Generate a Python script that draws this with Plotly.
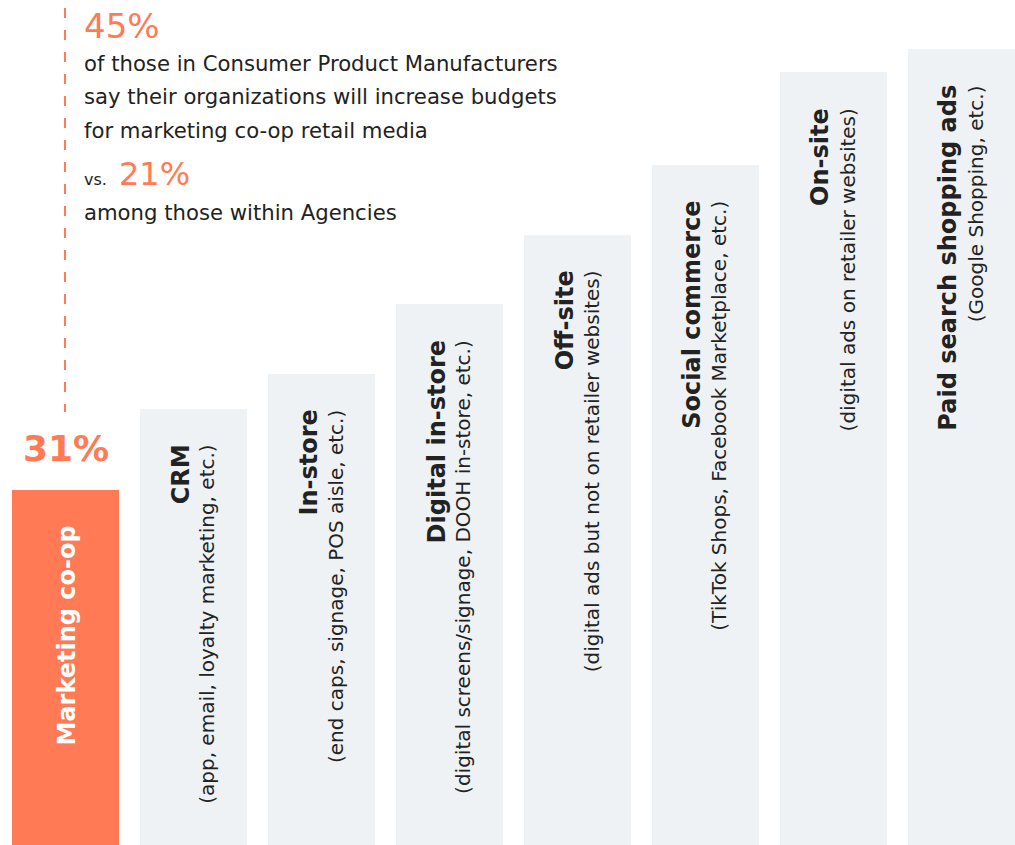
import plotly.graph_objects as go

# Share of respondents per retail media channel
titles = ["Marketing co-op", "CRM", "In-store", "Digital in-store", "Off-site",
          "Social commerce", "On-site", "Paid search shopping ads"]
subtitles = ["", "(app, email, loyalty marketing, etc.)",
             "(end caps, signage, POS aisle, etc.)",
             "(digital screens/signage, DOOH in-store, etc.)",
             "(digital ads but not on retailer websites)",
             "(TikTok Shops, Facebook Marketplace, etc.)",
             "(digital ads on retailer websites)",
             "(Google Shopping, etc.)"]
values = [31, 38, 41, 47, 53, 59, 67, 69]
highlight = "Marketing co-op"

cpm_share = 45
agency_share = 21
callout_lines = ["of those in Consumer Product Manufacturers",
                 "say their organizations will increase budgets",
                 "for marketing co-op retail media"]
agency_line = "among those within Agencies"

ORANGE = "#FF7A55"
GREY = "#EEF2F5"
DARK = "#222222"
FONT = "DejaVu Sans"

W, H = 1015, 845
PX_PER_UNIT = 11.6      # vertical pixels per percentage point
BASE_PX = 849.6         # pixel row of the zero line (just below the canvas)

x = list(range(len(titles)))
colors = [ORANGE if t == highlight else GREY for t in titles]

fig = go.Figure(go.Bar(x=x, y=values, marker_color=colors, width=0.836,
                       marker_line_width=0, hoverinfo="skip"))

ann = []
for i, (t, s, v) in enumerate(zip(titles, subtitles, values)):
    if t == highlight:
        ann.append(dict(x=i, y=v, text=f"<b>{t}</b>", textangle=-90, showarrow=False,
                        xanchor="center", yanchor="top", yshift=-34, xshift=1,
                        font=dict(family=FONT, size=24, color="white")))
        ann.append(dict(x=i, y=v, text=f"<b>{v}%</b>", showarrow=False,
                        xanchor="center", yanchor="bottom", yshift=19,
                        font=dict(family=FONT, size=36, color=ORANGE)))
    else:
        ann.append(dict(x=i, y=v, text=f"<b>{t}</b>", textangle=-90, showarrow=False,
                        xanchor="center", yanchor="top", yshift=-34, xshift=-13,
                        font=dict(family=FONT, size=24, color=DARK)))
        ann.append(dict(x=i, y=v, text=s, textangle=-90, showarrow=False,
                        xanchor="center", yanchor="top", yshift=-34, xshift=14,
                        font=dict(family=FONT, size=20, color=DARK)))


def px_x(px):
    return px / W


def px_y(px):
    return 1 - px / H


def label(text, xp, yp, size, color=DARK):
    return dict(x=px_x(xp), y=px_y(yp), xref="paper", yref="paper", text=text,
                showarrow=False, xanchor="left", yanchor="middle",
                font=dict(family=FONT, size=size, color=color))


# Callout text block
ann.append(label(f"{cpm_share}%", 82, 26, 34, ORANGE))
for k, line in enumerate(callout_lines):
    ann.append(label(line, 82, 63 + 33.5 * k, 21.2))
ann.append(label("vs.", 82, 180, 16))
ann.append(label(f"{agency_share}%", 117, 174, 32, ORANGE))
ann.append(label(agency_line, 82, 212, 21.2))

fig.update_layout(
    width=W, height=H,
    margin=dict(l=0, r=0, t=0, b=0),
    paper_bgcolor="white", plot_bgcolor="white",
    showlegend=False, bargap=0,
    annotations=ann,
    shapes=[dict(type="line", xref="paper", yref="paper",
                 x0=px_x(65), x1=px_x(65), y0=px_y(8), y1=px_y(412),
                 line=dict(color=ORANGE, width=2, dash="10px,12px"))],
)
fig.update_xaxes(visible=False, range=[-0.5117, -0.5117 + W / 128])
fig.update_yaxes(visible=False,
                 range=[(BASE_PX - H) / PX_PER_UNIT, BASE_PX / PX_PER_UNIT])

fig.write_html("out.html")
